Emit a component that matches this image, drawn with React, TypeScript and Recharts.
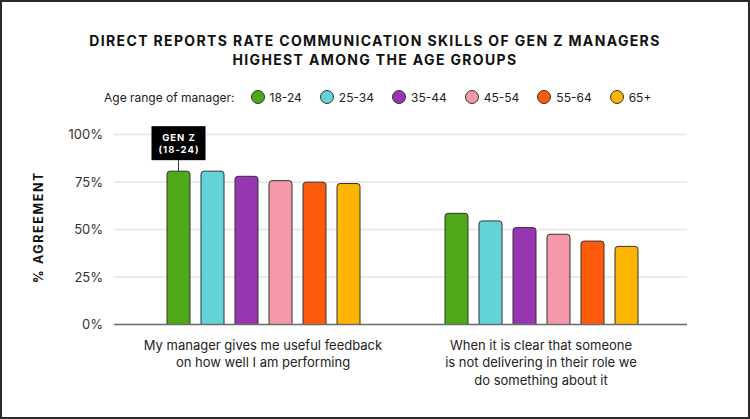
import { BarChart, Bar, XAxis, YAxis, CartesianGrid, LabelList, Label } from 'recharts'

const categories = [
  ['My manager gives me useful feedback', 'on how well I am performing'],
  ['When it is clear that someone', 'is not delivering in their role we', 'do something about it'],
]
const ageGroups = ['18-24', '25-34', '35-44', '45-54', '55-64', '65+']
const colors = ['#4fa817', '#63d3d7', '#9637b1', '#f498aa', '#fe5b0d', '#feb500']
const feedbackValues = [80.7, 80.7, 78, 75.7, 74.9, 74.2]
const actionValues = [58.5, 54.5, 51, 47.5, 43.9, 41.1]
const yTicks = [0, 25, 50, 75, 100]
const titleLines = ['DIRECT REPORTS RATE COMMUNICATION SKILLS OF GEN Z MANAGERS', 'HIGHEST AMONG THE AGE GROUPS']
const calloutLines = ['GEN Z', '(18-24)']

const FONT = 'Inter, "Noto Sans", sans-serif'

const data = categories.map((lines, i) => {
  const row: Record<string, unknown> = { name: lines.join(' '), lines }
  const vals = i === 0 ? feedbackValues : actionValues
  ageGroups.forEach((g, j) => {
    row[g] = vals[j]
  })
  return row
})

function CategoryTick({ x, y, index }: { x?: number; y?: number; index?: number }) {
  const lines = categories[index ?? 0] ?? []
  return (
    <g>
      {lines.map((line, i) => (
        <text
          key={i}
          x={x}
          y={(y ?? 0) + 25 + i * 17.5}
          textAnchor="middle"
          fontSize={13}
          fill="#222"
          fontFamily={FONT}
        >
          {line}
        </text>
      ))}
    </g>
  )
}

// callout box above the first Gen Z bar only
function GenZCallout(props: any) {
  const { x, y, width, index } = props
  if (index !== 0) return null
  const cx = x + width / 2
  const boxW = 54
  const boxH = 34
  const boxBottom = y - 11
  return (
    <g>
      <line x1={cx} y1={boxBottom} x2={cx} y2={y} stroke="#333" strokeWidth={1} />
      <rect x={cx - boxW / 2} y={boxBottom - boxH} width={boxW} height={boxH} fill="#000" />
      {calloutLines.map((t, i) => (
        <text
          key={i}
          x={cx + 0.5}
          y={boxBottom - boxH + 14.5 + i * 12}
          textAnchor="middle"
          fontSize={9.5}
          fontWeight={700}
          letterSpacing={1}
          fill="#fff"
          fontFamily={FONT}
        >
          {t}
        </text>
      ))}
    </g>
  )
}

export default function App() {
  return (
    <div style={{ position: 'relative', width: 750, height: 419, background: '#fff', fontFamily: FONT }}>
      <style>{'body{margin:0}'}</style>
      <div
        style={{
          position: 'absolute',
          top: 31,
          left: 0,
          width: 750,
          textAlign: 'center',
          fontSize: 14,
          fontWeight: 700,
          letterSpacing: 1.35,
          lineHeight: '19px',
          color: '#111',
        }}
      >
        {titleLines.map((l) => (
          <div key={l}>{l}</div>
        ))}
      </div>
      <div
        style={{
          position: 'absolute',
          top: 88,
          left: 104,
          display: 'flex',
          alignItems: 'center',
          fontSize: 12,
          color: '#222',
          height: 18,
        }}
      >
        <span style={{ marginRight: 16 }}>Age range of manager:</span>
        {ageGroups.map((g, i) => (
          <span key={g} style={{ display: 'flex', alignItems: 'center', marginRight: 18 }}>
            <span
              style={{
                width: 12,
                height: 12,
                borderRadius: '50%',
                background: colors[i],
                border: '1px solid #333',
                marginRight: 5,
              }}
            />
            {g}
          </span>
        ))}
      </div>
      <BarChart
        width={750}
        height={419}
        data={data}
        margin={{ top: 134.5, right: 63, bottom: 24.5, left: 0 }}
        barSize={23}
        barGap={11}
      >
        <CartesianGrid vertical={false} stroke="#e4e4e4" strokeWidth={1.5} />
        <XAxis
          dataKey="name"
          height={70}
          padding={{ left: 10, right: 7 }}
          tickLine={false}
          tickSize={0}
          tickMargin={0}
          axisLine={{ stroke: '#6e6e6e', strokeWidth: 1.5 }}
          tick={<CategoryTick />}
          interval={0}
        />
        <YAxis
          width={114}
          domain={[0, 100]}
          ticks={yTicks}
          tickFormatter={(v) => `${v}%`}
          axisLine={false}
          tickLine={false}
          tickSize={0}
          tickMargin={11}
          tick={{ fontSize: 13, fill: '#333', fontFamily: FONT }}
        >
          <Label
            content={() => (
              <text
                transform="translate(43,227) rotate(-90)"
                textAnchor="middle"
                fontSize={12.5}
                fontWeight={700}
                letterSpacing={1.6}
                fill="#111"
                fontFamily={FONT}
              >
                % AGREEMENT
              </text>
            )}
          />
        </YAxis>
        {ageGroups.map((g, i) => (
          <Bar
            key={g}
            dataKey={g}
            fill={colors[i]}
            stroke="#333"
            strokeWidth={1}
            radius={[3, 3, 0, 0]}
            isAnimationActive={false}
          >
            {i === 0 && <LabelList dataKey={g} content={GenZCallout} />}
          </Bar>
        ))}
      </BarChart>
      <div
        style={{
          position: 'absolute',
          inset: 0,
          border: '2px solid #2a2a2a',
          pointerEvents: 'none',
        }}
      />
    </div>
  )
}
